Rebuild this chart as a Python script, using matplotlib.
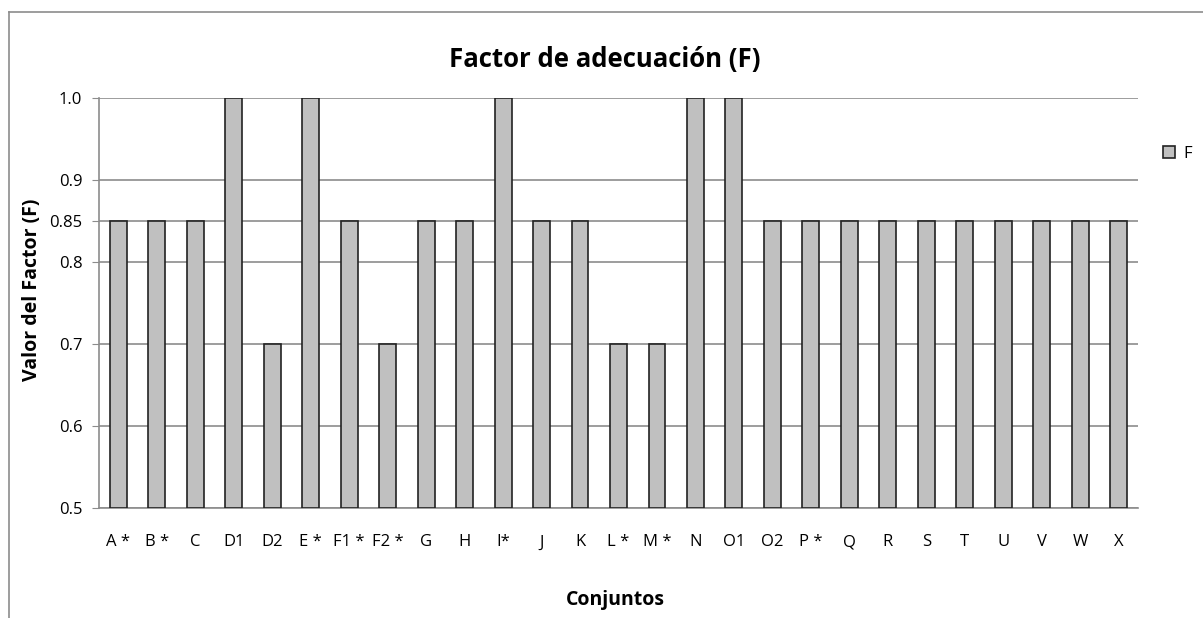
import matplotlib.pyplot as plt
from matplotlib.patches import Patch
from matplotlib.lines import Line2D

categories = ["A *", "B *", "C", "D1", "D2", "E *", "F1 *", "F2 *", "G", "H", "I*", "J", "K",
              "L *", "M *", "N", "O1", "O2", "P *", "Q", "R", "S", "T", "U", "V", "W", "X"]
values = [0.85, 0.85, 0.85, 1.0, 0.7, 1.0, 0.85, 0.7, 0.85, 0.85, 1.0, 0.85, 0.85,
          0.7, 0.7, 1.0, 1.0, 0.85, 0.85, 0.85, 0.85, 0.85, 0.85, 0.85, 0.85, 0.85, 0.85]
yticks = [0.5, 0.6, 0.7, 0.8, 0.85, 0.9, 1.0]
ytick_labels = ["0.5", "0.6", "0.7", "0.8", "0.85", "0.9", "1.0"]

plt.rcParams['font.family'] = ['Open Sans', 'DejaVu Sans']

W, H = 1203, 618
fig = plt.figure(figsize=(W / 100, H / 100), dpi=100)
ax = fig.add_axes([99 / W, 1 - 508 / H, (1138 - 99) / W, (508 - 98) / H])

grid_col = "#8c8c8c"
x = range(len(categories))
ax.bar(x, [v - 0.5 for v in values], bottom=0.5, width=0.44, color="#c0c0c0",
       edgecolor="#222222", linewidth=1.2, zorder=3)

ax.set_xlim(-0.5, len(categories) - 0.5)
ax.set_ylim(0.5, 1.0)
ax.set_yticks(yticks)
ax.set_yticklabels(ytick_labels, fontsize=12)
ax.set_xticks(list(x))
ax.set_xticklabels(categories, fontsize=12)
ax.tick_params(axis="x", length=0, pad=19)
ax.tick_params(axis="y", length=5, color=grid_col, pad=7)
ax.grid(axis="y", color=grid_col, linewidth=1.2, zorder=0)
for s in ["top", "right"]:
    ax.spines[s].set_visible(False)
ax.spines["left"].set_color(grid_col)
ax.spines["bottom"].set_color(grid_col)
ax.spines["left"].set_linewidth(1.2)
ax.spines["bottom"].set_linewidth(1.2)

fig.text(605 / W, 1 - 60 / H, "Factor de adecuación (F)", ha="center", va="center",
         fontsize=18.5, fontweight="bold")
fig.text(615 / W, 1 - 600 / H, "Conjuntos", ha="center", va="center",
         fontsize=14, fontweight="bold")
fig.text(32 / W, 1 - 290 / H, "Valor del Factor (F)", ha="center", va="center",
         rotation=90, fontsize=14, fontweight="bold")

# legend
handle = Patch(facecolor="#c0c0c0", edgecolor="#222222", linewidth=1.2)
fig.legend([handle], ["F"], loc="center left", bbox_to_anchor=(1148 / W, 1 - 154 / H),
           frameon=False, fontsize=12, handlelength=0.7, handleheight=0.7, handletextpad=0.5)

# chart border (left and top visible)
fig.add_artist(Line2D([9 / W, 9 / W], [0, 1 - 12 / H], transform=fig.transFigure,
                      color=grid_col, linewidth=1.2))
fig.add_artist(Line2D([9 / W, 1], [1 - 12 / H, 1 - 12 / H], transform=fig.transFigure,
                      color=grid_col, linewidth=1.2))

fig.savefig("out.png", dpi=100)
